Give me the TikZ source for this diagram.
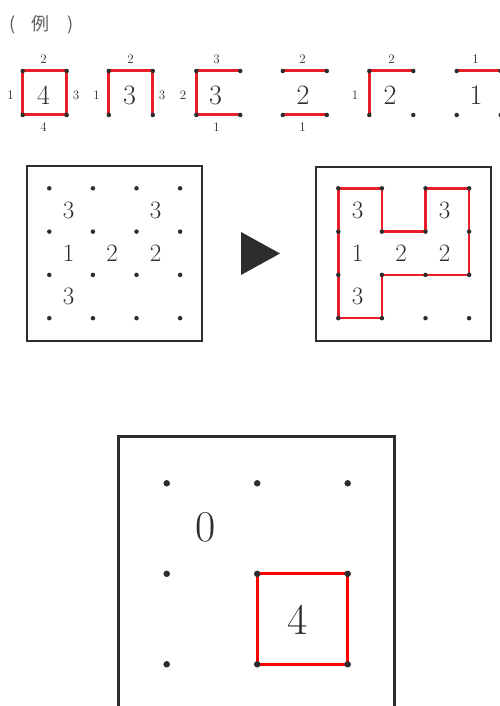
\documentclass[tikz,border=0pt]{standalone}
\usepackage{fontspec}
\newfontfamily\cjk{Noto Sans CJK JP}
\usetikzlibrary{backgrounds}
\definecolor{pzred}{RGB}{232,30,40}
\definecolor{ink}{RGB}{45,45,45}
\definecolor{titlegray}{RGB}{95,95,95}
\tikzset{
  dot/.style={circle,fill=ink,inner sep=0pt,minimum size=4.5pt},
  bigdot/.style={circle,fill=ink,inner sep=0pt,minimum size=6.5pt},
  redline/.style={draw=pzred,line width=3pt,line join=miter},
  gridred/.style={draw=pzred,line width=2.5pt,line join=miter},
  frame/.style={draw=ink,line width=2pt},
  bigframe/.style={draw=ink,line width=3pt},
  small/.style={inner sep=0pt,text=ink,font=\fontsize{13}{13}\selectfont},
  mid/.style={inner sep=0pt,text=ink,font=\fontsize{28}{28}\selectfont},
  cell/.style={inner sep=0pt,text=ink,font=\fontsize{25}{25}\selectfont},
  bigcell/.style={inner sep=0pt,text=ink,font=\fontsize{44}{44}\selectfont},
  title/.style={inner sep=0pt,text=titlegray,font=\cjk\fontsize{18}{18}\selectfont}
}
\begin{document}
\begin{tikzpicture}[x=1pt,y=-1pt]
\clip (0,0) rectangle (500,706);
% title
\node[title,anchor=west] (ttl) at (9,25) {(\hspace{16pt}例\hspace{18pt})};
% examples
\foreach \k/\cx in {1/44.7,2/130.8,3/218.3,4/304.8,5/391.3,6/478.7}{
  \node[dot] (e\k tl) at (\cx-22,71) {};
  \node[dot] (e\k tr) at (\cx+22,71) {};
  \node[dot] (e\k bl) at (\cx-22,115) {};
  \node[dot] (e\k br) at (\cx+22,115) {};
}
\begin{pgfonlayer}{background}
  \draw[redline] (e1tl.center) -- (e1tr.center) -- (e1br.center) -- (e1bl.center) -- cycle;
  \draw[redline] (e2bl.center) -- (e2tl.center) -- (e2tr.center) -- (e2br.center);
  \draw[redline] (e3tr.center) -- (e3tl.center) -- (e3bl.center) -- (e3br.center);
  \draw[redline] (e4tl.center) -- (e4tr.center);
  \draw[redline] (e4bl.center) -- (e4br.center);
  \draw[redline] (e5bl.center) -- (e5tl.center) -- (e5tr.center);
  \draw[redline] (e6tl.center) -- (e6tr.center);
\end{pgfonlayer}
% example labels
\node[mid] (n1) at (43.5,95) {4};
\node[small] (t1) at (43.5,59.5) {2};
\node[small] (b1) at (43.5,127.5) {4};
\node[small] (l1) at (10.5,95.5) {1};
\node[small] (r1) at (76,95.5) {3};
\node[mid] (n2) at (129.5,95) {3};
\node[small] (t2) at (130.5,59.5) {2};
\node[small] (l2) at (96.5,95.5) {1};
\node[small] (r2) at (162,95.5) {3};
\node[mid] (n3) at (215.5,95) {3};
\node[small] (t3) at (216.5,59.5) {3};
\node[small] (l3) at (183,95.5) {2};
\node[small] (b3) at (216.5,127.5) {1};
\node[mid] (n4) at (303,95) {2};
\node[small] (t4) at (302.5,59.5) {2};
\node[small] (b4) at (302.5,127.5) {1};
\node[mid] (n5) at (390,95) {2};
\node[small] (t5) at (391.5,59.5) {2};
\node[small] (l5) at (355,95.5) {1};
\node[mid] (n6) at (476,95) {1};
\node[small] (t6) at (475.5,59.5) {1};
% grid 1
\draw[frame] (27.3,166) rectangle (201.7,340.7);
\foreach \i in {0,...,3}{\foreach \j in {0,...,3}{
  \node[dot] (a\i\j) at ({49.3+43.6*\i},{188.3+43.3*\j}) {};
}}
\node[cell] (ac00) at (68.5,210) {3};
\node[cell] (ac20) at (155.5,210) {3};
\node[cell] (ac01) at (68.5,253.5) {1};
\node[cell] (ac11) at (112,253.5) {2};
\node[cell] (ac21) at (155.5,253.5) {2};
\node[cell] (ac02) at (68.5,296.5) {3};
% arrow
\fill[ink] (241,232) -- (241,275) -- (280,253.5) -- cycle;
% grid 2
\draw[frame] (315.7,166.7) rectangle (490.7,340.7);
\foreach \i in {0,...,3}{\foreach \j in {0,...,3}{
  \node[dot] (b\i\j) at ({338.3+43.6*\i},{188.3+43.3*\j}) {};
}}
\begin{pgfonlayer}{background}
  \draw[gridred] (b00.center) -- (b10.center) -- (b11.center) -- (b21.center) -- (b20.center) -- (b30.center) -- (b32.center) -- (b12.center) -- (b13.center) -- (b03.center) -- cycle;
\end{pgfonlayer}
\node[cell] (bc00) at (357.5,210) {3};
\node[cell] (bc20) at (444.5,210) {3};
\node[cell] (bc01) at (357.5,253.5) {1};
\node[cell] (bc11) at (401,253.5) {2};
\node[cell] (bc21) at (444.5,253.5) {2};
\node[cell] (bc02) at (357.5,296.5) {3};
% bottom grid
\draw[bigframe] (118.3,720) -- (118.3,436) -- (394,436) -- (394,720);
\foreach \i in {0,...,2}{\foreach \j in {0,...,2}{
  \node[bigdot] (c\i\j) at ({166.7+90.5*\i},{483.3+90.5*\j}) {};
}}
\begin{pgfonlayer}{background}
  \draw[redline,draw=red] (c11.center) -- (c21.center) -- (c22.center) -- (c12.center) -- cycle;
\end{pgfonlayer}
\node[bigcell] (cc00) at (206,527) {0};
\node[bigcell] (cc11) at (298,620) {4};
\end{tikzpicture}
\end{document}
